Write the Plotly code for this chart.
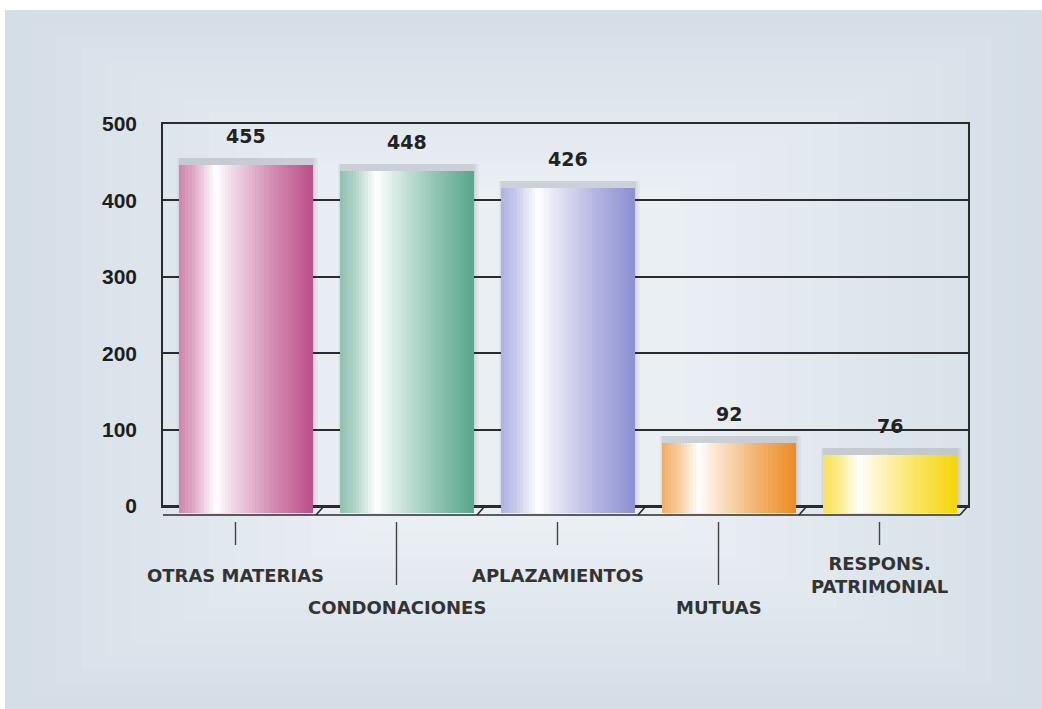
import plotly.graph_objects as go

# ---- data ----
categories = ["OTRAS MATERIAS", "CONDONACIONES", "APLAZAMIENTOS", "MUTUAS", "RESPONS.<br>PATRIMONIAL"]
values = [455, 448, 426, 92, 76]
base_colors = ["#bb4f89", "#5aa68e", "#8c90d2", "#ec8c24", "#f6d50a"]
y_ticks = [0, 100, 200, 300, 400, 500]

W_PX, H_PX = 1042, 709
FONT = "Liberation Sans, Arial, sans-serif"
FONT_WIDE = "DejaVu Sans, Liberation Sans, sans-serif"

# plot-area geometry (pixels)
X0, X1 = 163, 968          # back plane left/right
Y_TOP, Y_ZERO = 124, 506   # back plane 500 / 0
DEPTH = 8                  # 3D floor depth
N_CAT = len(categories)
cat_px = (X1 - X0) / N_CAT
dx = DEPTH / cat_px        # depth in category units


def py(pix):
    return (H_PX - pix) / H_PX


def px(pix):
    return pix / W_PX


def hex_rgb(h):
    h = h.lstrip("#")
    return tuple(int(h[i:i + 2], 16) for i in (0, 2, 4))


# whiteness profile across a cylinder (0 = left edge, 1 = right edge)
profile = [(0.0, 0.30), (0.10, 0.50), (0.27, 1.0), (0.40, 0.78), (0.70, 0.35), (1.0, 0.0)]


def whiteness(t):
    for (a, wa), (b, wb) in zip(profile, profile[1:]):
        if a <= t <= b:
            return wa + (wb - wa) * (t - a) / (b - a)
    return 0.0


def mix(c1, c2, w):
    a, b = hex_rgb(c1), hex_rgb(c2)
    return "#%02x%02x%02x" % tuple(round(x + (y - x) * w) for x, y in zip(a, b))


def shade(hexc, t):
    return mix(hexc, "#ffffff", whiteness(t))


fig = go.Figure()
xs = list(range(N_CAT))
BAR_W = 0.826
BAR_SHIFT = 0.015

# soft shadow above and right of each cylinder (on the back-plane axis)
for extra, alpha in [(0.05, 0.04), (0.032, 0.05), (0.015, 0.07)]:
    fig.add_trace(go.Bar(
        x=xs, y=values, yaxis="y", xaxis="x",
        width=BAR_W + extra, offset=-BAR_W / 2 + BAR_SHIFT - extra * 0.3,
        marker=dict(color="rgba(60,60,60,%.2f)" % alpha, line=dict(width=0)),
        hoverinfo="skip", showlegend=False,
    ))

# cylinders: vertical slices with a horizontal shading gradient
N_SLICE = 44
sw = BAR_W / N_SLICE
for i in range(N_SLICE):
    t = (i + 0.5) / N_SLICE
    fig.add_trace(go.Bar(
        x=xs, y=values, yaxis="y2", xaxis="x",
        width=sw * 1.15, offset=-BAR_W / 2 + BAR_SHIFT + i * sw,
        marker=dict(color=[shade(c, t) for c in base_colors], line=dict(width=0)),
        hoverinfo="skip", showlegend=False,
    ))

# value labels
for x, v in zip(xs, values):
    fig.add_annotation(x=x + BAR_SHIFT, y=v, xref="x", yref="y2", text="<b>%d</b>" % v,
                       showarrow=False, yshift=29,
                       font=dict(family=FONT_WIDE, size=19, color="#222222"))

shapes = []
# panel background with a soft lighter centre
edge, centre = "#d5dee7", "#eaeff4"
shapes.append(dict(type="rect", xref="paper", yref="paper", x0=px(5), x1=1, y0=0, y1=py(10),
                   fillcolor=edge, line=dict(width=0), layer="below"))
N_BG = 14
for j in range(1, N_BG + 1):
    inset = j * 17
    shapes.append(dict(type="rect", xref="paper", yref="paper",
                       x0=px(5 + inset * 1.5), x1=px(W_PX - inset * 1.5),
                       y0=py(H_PX - inset * 0.75), y1=py(10 + inset * 0.75),
                       fillcolor=mix(edge, centre, j / N_BG), line=dict(width=0), layer="below"))

LINE = dict(color="#2b2b2b", width=1.6)
# floor front edge
shapes.append(dict(type="line", xref="x", yref="paper", x0=-0.5 - dx, x1=N_CAT - 0.5 - dx,
                   y0=py(Y_ZERO + DEPTH + 1), y1=py(Y_ZERO + DEPTH + 1), line=LINE, layer="above"))
# floor diagonals at category boundaries
for k in range(N_CAT + 1):
    xb = k - 0.5
    shapes.append(dict(type="line", xref="x", yref="paper", x0=xb, x1=xb - dx,
                       y0=py(Y_ZERO), y1=py(Y_ZERO + DEPTH + 1), line=LINE, layer="above"))
# category tick marks (staggered)
for k in range(N_CAT):
    yb = 545 if k % 2 == 0 else 585
    shapes.append(dict(type="line", xref="x", yref="paper", x0=k - dx, x1=k - dx,
                       y0=py(522), y1=py(yb), line=dict(color="#444444", width=1.4)))

# category labels
label_y = [575, 607, 575, 607, 575]
for k, (name, ly) in enumerate(zip(categories, label_y)):
    fig.add_annotation(x=k - dx, y=py(ly), xref="x", yref="paper", text="<b>%s</b>" % name,
                       showarrow=False, yanchor="middle",
                       font=dict(family=FONT_WIDE, size=18, color="#333333"))

fig.update_layout(
    width=W_PX, height=H_PX, autosize=False,
    margin=dict(l=0, r=0, t=0, b=0, pad=0, autoexpand=False),
    paper_bgcolor="white", plot_bgcolor="rgba(0,0,0,0)",
    barmode="overlay", bargap=0, showlegend=False,
    shapes=shapes,
    xaxis=dict(domain=[px(X0), px(X1)], range=[-0.5, N_CAT - 0.5], showgrid=False,
               zeroline=False, showticklabels=False, ticks="", fixedrange=True,
               showline=True, mirror=True, linecolor="#2b2b2b", linewidth=1.6),
    yaxis=dict(domain=[py(Y_ZERO), py(Y_TOP)], range=[0, 500], tickvals=y_ticks,
               ticktext=["<b>%d</b>" % v for v in y_ticks],
               showgrid=True, gridcolor="#2b2b2b", gridwidth=1.6,
               zeroline=True, zerolinecolor="#2b2b2b", zerolinewidth=1.6,
               showline=True, mirror=True, linecolor="#2b2b2b", linewidth=1.6,
               ticks="outside", ticklen=20, tickcolor="rgba(0,0,0,0)",
               tickfont=dict(family=FONT, size=21, color="#1e1e1e"), automargin=False),
    yaxis2=dict(domain=[py(Y_ZERO + DEPTH - 1), py(Y_TOP + DEPTH - 1)], range=[0, 500],
                overlaying="free", anchor="x", showgrid=False, zeroline=False,
                showticklabels=False, ticks=""),
)

fig.write_html("out.html")
